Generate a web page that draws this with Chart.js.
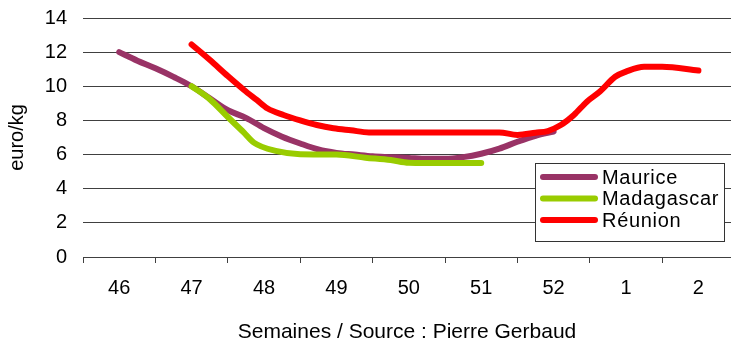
<!DOCTYPE html>
<html>
<head>
<meta charset="utf-8">
<script src="https://cdn.jsdelivr.net/npm/chart.js@4.4.1/dist/chart.umd.min.js"></script>
<style>
  html, body { margin: 0; padding: 0; background: #fff; }
  #c { display: block; }
</style>
</head>
<body>
<canvas id="c" width="731" height="347"></canvas>
<script>
// Week labels (one label per week, positioned at week index 0..8)
const weekLabels = ['46', '47', '48', '49', '50', '51', '52', '1', '2'];

// Maurice: positions in weeks (0 = week 46) and prices in euro/kg
const mauriceWeeks = [0, 0.25, 0.5, 0.75, 1, 1.25, 1.5, 1.75, 2, 2.25, 2.5, 2.75, 3, 3.25, 3.5, 3.75, 4, 4.25, 4.5, 4.75, 5, 5.25, 5.5, 5.75, 6];
const mauricePrices = [12.0, 11.5, 11.05, 10.55, 10.0, 9.3, 8.6, 8.15, 7.55, 7.05, 6.65, 6.3, 6.1, 6.0, 5.9, 5.85, 5.8, 5.75, 5.75, 5.85, 6.05, 6.35, 6.75, 7.1, 7.35];

// Madagascar
const madagascarWeeks = [1, 1.25, 1.5, 1.72, 1.86, 2.18, 2.5, 3, 3.4, 3.75, 4, 4.5, 5];
const madagascarPrices = [10.0, 9.25, 8.2, 7.3, 6.7, 6.2, 6.02, 6.0, 5.82, 5.68, 5.52, 5.5, 5.5];

// Réunion
const reunionWeeks = [1, 1.25, 1.5, 1.72, 1.9, 2.05, 2.27, 2.5, 2.73, 2.96, 3.2, 3.45, 4, 4.5, 5, 5.25, 5.5, 5.75, 5.92, 6.1, 6.28, 6.46, 6.64, 6.85, 7.0, 7.25, 7.5, 8];
const reunionPrices = [12.45, 11.55, 10.6, 9.8, 9.2, 8.7, 8.32, 8.0, 7.73, 7.54, 7.42, 7.3, 7.3, 7.3, 7.3, 7.3, 7.15, 7.28, 7.38, 7.73, 8.32, 9.1, 9.69, 10.56, 10.86, 11.15, 11.15, 10.92];

// Y axis ticks
const priceTicks = [0, 2, 4, 6, 8, 10, 12, 14];

const FONT = '"Liberation Sans", Arial, sans-serif';
const GRID = '#404040';

const toPoints = (xs, ys) => xs.map((x, i) => ({ x, y: ys[i] }));

// Tick positions: week centres carry labels, week boundaries carry tick marks
const xTickValues = [];
weekLabels.forEach((_, i) => { xTickValues.push(i - 0.5); xTickValues.push(i); });

// Framed legend drawn inside the plot area
const boxLegend = {
  id: 'boxLegend',
  afterDatasetsDraw(chart, args, o) {
    const ctx = chart.ctx;
    ctx.save();
    ctx.fillStyle = '#fff';
    ctx.fillRect(o.x, o.y, o.w, o.h);
    ctx.strokeStyle = '#333';
    ctx.lineWidth = 1;
    ctx.strokeRect(o.x + 0.5, o.y + 0.5, o.w, o.h);
    chart.data.datasets.forEach((ds, i) => {
      const y = o.y + o.firstRow + i * o.rowGap;
      ctx.strokeStyle = ds.borderColor;
      ctx.lineWidth = 6;
      ctx.lineCap = 'round';
      ctx.beginPath();
      ctx.moveTo(o.x + 8, y);
      ctx.lineTo(o.x + 60, y);
      ctx.stroke();
      ctx.fillStyle = '#000';
      ctx.font = '20px ' + FONT;
      ctx.textBaseline = 'middle';
      ctx.textAlign = 'left';
      if ('letterSpacing' in ctx) ctx.letterSpacing = '0.7px';
      ctx.fillText(ds.label, o.x + 67, y + 1);
      if ('letterSpacing' in ctx) ctx.letterSpacing = '0px';
    });
    ctx.restore();
  }
};

new Chart(document.getElementById('c'), {
  type: 'line',
  data: {
    datasets: [
      { label: 'Maurice', data: toPoints(mauriceWeeks, mauricePrices), borderColor: '#993366', order: 3 },
      { label: 'Madagascar', data: toPoints(madagascarWeeks, madagascarPrices), borderColor: '#99CC00', order: 2 },
      { label: 'Réunion', data: toPoints(reunionWeeks, reunionPrices), borderColor: '#FF0000', order: 1 }
    ]
  },
  options: {
    responsive: false,
    animation: false,
    devicePixelRatio: 1,
    layout: { padding: { top: 18, left: 0, right: 0, bottom: 0 } },
    elements: {
      line: { borderWidth: 6, cubicInterpolationMode: 'monotone', borderCapStyle: 'round', borderJoinStyle: 'round', fill: false },
      point: { radius: 0, hoverRadius: 0 }
    },
    plugins: {
      legend: { display: false },
      tooltip: { enabled: false },
      boxLegend: { x: 535, y: 163, w: 189, h: 78, firstRow: 14, rowGap: 21.5 }
    },
    scales: {
      x: {
        type: 'linear',
        min: -0.5,
        max: 8.45,
        afterBuildTicks: (s) => { s.ticks = xTickValues.map(v => ({ value: v })); },
        afterFit: (s) => { s.height = 90; s.paddingLeft = 0; s.paddingRight = 0; },
        border: { display: true, color: GRID, width: 1 },
        grid: {
          drawOnChartArea: false,
          drawTicks: true,
          tickLength: 6,
          color: (c) => (c.tick && c.tick.value % 1 !== 0) ? GRID : 'rgba(0,0,0,0)'
        },
        ticks: {
          autoSkip: false,
          maxRotation: 0,
          minRotation: 0,
          padding: 13,
          color: '#000',
          font: { family: FONT, size: 20 },
          callback: (v) => (v % 1 === 0 ? weekLabels[v] : '')
        },
        title: {
          display: true,
          text: 'Semaines / Source : Pierre Gerbaud',
          color: '#000',
          font: { family: FONT, size: 21 },
          padding: { top: 0, bottom: 2 }
        }
      },
      y: {
        min: 0,
        max: 14,
        afterBuildTicks: (s) => { s.ticks = priceTicks.map(v => ({ value: v })); },
        afterFit: (s) => { s.width = 83; s.paddingTop = 0; s.paddingBottom = 0; },
        border: { display: false },
        grid: { color: GRID, lineWidth: 1, drawTicks: false },
        ticks: {
          padding: 16,
          color: '#000',
          font: { family: FONT, size: 20 }
        },
        title: {
          display: true,
          text: 'euro/kg',
          color: '#000',
          font: { family: FONT, size: 20 },
          padding: { top: 5, bottom: 0 }
        }
      }
    }
  },
  plugins: [boxLegend]
});
</script>
</body>
</html>
